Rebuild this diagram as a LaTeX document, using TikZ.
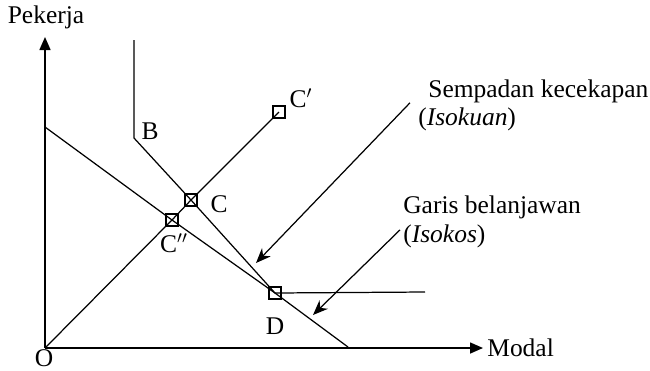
\documentclass[tikz,border=0pt]{standalone}
\usepackage{fontspec}
\setmainfont{Liberation Serif}
\usetikzlibrary{arrows.meta}

\begin{document}
\begin{tikzpicture}[
        x=0.02cm, y=-0.02cm,
        font=\fontsize{14.5pt}{17pt}\selectfont,
        >={Stealth[length=3mm, width=2.4mm]},
        axis/.style={line width=0.9pt, -{Triangle[length=2.6mm, width=2.2mm]}},
        curve/.style={line width=0.7pt},
        pointbox/.style={
                rectangle, draw, line width=0.7pt,
                minimum size=6.8pt, inner sep=0pt
            },
        lbl/.style={inner sep=0pt},
        note/.style={inner sep=0pt, anchor=base west},
        pointer/.style={->, line width=0.7pt}
    ]
    \useasboundingbox (0,0) rectangle (650,370);

    % ===== Axes =====
    \coordinate (O) at (45,348);
    \coordinate (ytip) at (45,37);
    \coordinate (xtip) at (483,348);
    \draw[axis] (O) -- (ytip);
    \draw[axis] (O) -- (xtip);
    \node[lbl] (pekerja) at (46,17) {Pekerja};
    \node[lbl, anchor=west] (modal) at (487,348) {Modal};
    \node[lbl, anchor=base] (olabel) at (44,366) {O};

    % ===== Points =====
    \node[pointbox] (Cp) at (279,112) {};
    \node[pointbox] (C) at (191,200) {};
    \node[pointbox] (Cpp) at (172,220) {};
    \node[pointbox] (D) at (275,293) {};

    % ===== Isokuan =====
    \coordinate (Btop) at (134,40);
    \coordinate (B) at (134,138);
    \coordinate (Dend) at (425,292);
    \draw[curve] (Btop) -- (B) -- (C.center) -- (D.center) -- (Dend);

    % ===== Isokos =====
    \coordinate (kmax) at (45,127);
    \coordinate (lmax) at (348,347);
    \draw[curve] (kmax) -- (Cpp.center) -- (D.center) -- (lmax);

    % ===== Ray from origin =====
    \draw[curve] (O) -- (Cpp.center) -- (C.center) -- (Cp.center);

    % ===== Point labels =====
    \node[lbl] (blabel) at (150,131) {B};
    \node[lbl] (clabel) at (219,204) {C};
    \node[lbl] (cplabel) at (301,98) {C$'$};
    \node[lbl] (cpplabel) at (174,243) {C$''$};
    \node[lbl] (dlabel) at (275,326) {D};

    % ===== Notes with arrows =====
    \node[note] (sempadan) at (428,97) {Sempadan kecekapan};
    \node[note] (isokuan) at (418,125) {(\textit{Isokuan})};
    \node[note] (garis) at (403,213) {Garis belanjawan};
    \node[note] (isokos) at (403,242) {(\textit{Isokos})};
    \coordinate (isoqtip) at (256,263);
    \coordinate (isoctip) at (313,315);
    \draw[pointer] ([xshift=-0.36cm]sempadan.south west) -- (isoqtip);
    \draw[pointer] ([shift={(-3,-6)}]isokos.west) -- (isoctip);

\end{tikzpicture}
\end{document}
